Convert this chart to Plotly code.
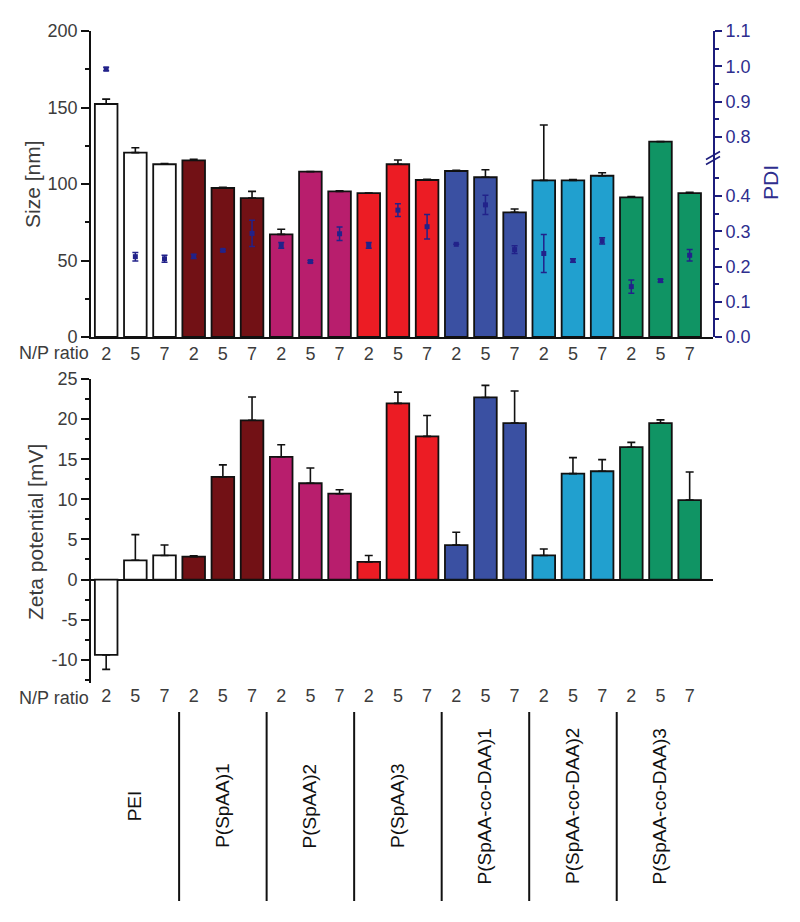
import plotly.graph_objects as go

# ---------------- data ----------------
groups = ["PEI", "P(SpAA)1", "P(SpAA)2", "P(SpAA)3",
          "P(SpAA-co-DAA)1", "P(SpAA-co-DAA)2", "P(SpAA-co-DAA)3"]
np_ratios = ["2", "5", "7"]
group_colors = ["#ffffff", "#721115", "#b81e6d", "#ec1c24",
                "#3a50a2", "#21a0cf", "#109464"]

size_nm = [152.3, 120.5, 112.9, 115.5, 97.4, 90.8, 67.1, 108.1, 95.2,
           94.1, 112.9, 102.6, 108.5, 104.4, 81.5, 102.4, 102.4, 105.4,
           91.3, 127.7, 94.1]
size_err = [3.2, 3.2, 0.5, 0.7, 0.5, 4.4, 3.3, 0.0, 0.3,
            0.0, 2.8, 0.5, 0.5, 4.9, 2.2, 36.2, 0.5, 2.0,
            0.5, 0.0, 0.5]
pdi = [0.992, 0.228, 0.222, 0.229, 0.246, 0.294, 0.260, 0.214, 0.293,
       0.260, 0.360, 0.313, 0.263, 0.375, 0.248, 0.237, 0.217, 0.273,
       0.143, 0.160, 0.232]
pdi_err = [0.005, 0.012, 0.010, 0.006, 0.003, 0.037, 0.008, 0.003, 0.019,
           0.008, 0.018, 0.035, 0.000, 0.027, 0.011, 0.054, 0.005, 0.009,
           0.019, 0.004, 0.016]
zeta = [-9.4, 2.4, 3.0, 2.86, 12.8, 19.85, 15.3, 12.0, 10.7,
        2.2, 21.96, 17.85, 4.3, 22.7, 19.5, 3.0, 13.2, 13.5,
        16.5, 19.5, 9.9]
zeta_err = [1.8, 3.2, 1.3, 0.1, 1.5, 2.9, 1.5, 1.9, 0.5,
            0.8, 1.4, 2.6, 1.6, 1.5, 4.0, 0.8, 2.0, 1.45,
            0.6, 0.4, 3.5]
size_ticks = [0, 50, 100, 150, 200]
zeta_ticks = [-10, -5, 0, 5, 10, 15, 20, 25]
pdi_ticks_low = [0.0, 0.1, 0.2, 0.3, 0.4]
pdi_ticks_high = [0.8, 0.9, 1.0, 1.1]

# ---------------- derived ----------------
n = len(size_nm)
xs = list(range(n))
tick_text = np_ratios * len(groups)
bar_colors = [c for c in group_colors for _ in np_ratios]
PDI_BREAK_LOW, PDI_BREAK_HIGH = 0.508, 0.74

FONT = "Liberation Sans, Arial, sans-serif"
TXT = "#3c3c3c"
NAVY = "#1c1c7c"
NAVY_TXT = "#2e2e8e"

# page geometry (the page body adds an 8px offset around the figure)
OFF = 8
W, H = 800 - OFF, 922 - OFF
ML, MT = 91 - OFF, 31 - OFF
MR = W - (713 - OFF)
MB = H - (683 - OFF)
PW, PH = W - ML - MR, H - MT - MB
def py(p):
    return (H - MB - (p - OFF)) / PH
def px(p):
    return ((p - OFF) - ML) / PW

fig = go.Figure()

# top: size bars
fig.add_trace(go.Bar(
    x=xs, y=size_nm, xaxis="x", yaxis="y", width=0.775,
    marker=dict(color=bar_colors, line=dict(color="#111111", width=1.8)),
    error_y=dict(type="data", array=size_err, arrayminus=[0] * n,
                 symmetric=False, color="#111111", thickness=1.6, width=4),
    showlegend=False))

# top: PDI points on broken right axis
lo_x = [x for x, v in zip(xs, pdi) if v < PDI_BREAK_LOW]
lo_y = [v for v in pdi if v < PDI_BREAK_LOW]
lo_e = [e for v, e in zip(pdi, pdi_err) if v < PDI_BREAK_LOW]
hi_x = [x for x, v in zip(xs, pdi) if v >= PDI_BREAK_LOW]
hi_y = [v for v in pdi if v >= PDI_BREAK_LOW]
hi_e = [e for v, e in zip(pdi, pdi_err) if v >= PDI_BREAK_LOW]
for tx, ty, te, ya in [(lo_x, lo_y, lo_e, "y2"), (hi_x, hi_y, hi_e, "y3")]:
    fig.add_trace(go.Scatter(
        x=tx, y=ty, xaxis="x", yaxis=ya, mode="markers",
        marker=dict(symbol="square", size=5, color="#22228a"),
        error_y=dict(type="data", array=te, color="#22228a",
                     thickness=1.5, width=3),
        showlegend=False))

# bottom: zeta bars
fig.add_trace(go.Bar(
    x=xs, y=zeta, xaxis="x2", yaxis="y4", width=0.775,
    marker=dict(color=bar_colors, line=dict(color="#111111", width=1.8)),
    error_y=dict(type="data",
                 array=[e if v >= 0 else 0 for v, e in zip(zeta, zeta_err)],
                 arrayminus=[e if v < 0 else 0 for v, e in zip(zeta, zeta_err)],
                 symmetric=False, color="#111111", thickness=1.6, width=4),
    showlegend=False))

top_dom = [py(337), 1.0]
bot_dom = [0.0, py(379)]
brk = py(158)

xcommon = dict(range=[-0.52, 20.8], tickmode="array", tickvals=xs,
               ticktext=tick_text, ticks="", showgrid=False, zeroline=False,
               automargin=False,
               tickfont=dict(family=FONT, size=18, color=TXT))

fig.update_layout(
    width=W, height=H, margin=dict(l=ML, r=MR, t=MT, b=MB, autoexpand=False),
    paper_bgcolor="white", plot_bgcolor="rgba(0,0,0,0)",
    bargap=0.2, font=dict(family=FONT, color=TXT),
    xaxis=dict(**xcommon, anchor="y", domain=[0, 1],
               showline=True, linecolor="#111111", linewidth=1.6),
    xaxis2=dict(**xcommon, anchor="y4", domain=[0, 1], showline=False),
    yaxis=dict(domain=top_dom, range=[0, 200], anchor="x", automargin=False,
               tickmode="array", tickvals=size_ticks,
               ticktext=[str(v) for v in size_ticks],
               ticks="outside", ticklen=8, tickwidth=1.5, tickcolor="#111111",
               minor=dict(tickvals=[25, 75, 125, 175], ticks="outside",
                          ticklen=4, tickwidth=1.5, tickcolor="#111111"),
               showline=True, linecolor="#111111", linewidth=1.6,
               showgrid=False, zeroline=False,
               tickfont=dict(family=FONT, size=18, color=TXT)),
    yaxis2=dict(domain=[top_dom[0], brk], range=[0, PDI_BREAK_LOW],
                anchor="x", side="right", automargin=False,
                tickmode="array", tickvals=pdi_ticks_low,
                ticktext=[f"{v:.1f}" for v in pdi_ticks_low],
                ticks="outside", ticklen=7, tickwidth=1.5, tickcolor=NAVY,
                minor=dict(tickvals=[0.05, 0.15, 0.25, 0.35, 0.45],
                           ticks="outside", ticklen=4, tickwidth=1.5,
                           tickcolor=NAVY),
                showline=True, linecolor=NAVY, linewidth=1.6,
                showgrid=False, zeroline=False,
                tickfont=dict(family=FONT, size=18, color=NAVY_TXT)),
    yaxis3=dict(domain=[brk, 1.0], range=[PDI_BREAK_HIGH, 1.1],
                anchor="x", side="right", automargin=False,
                tickmode="array", tickvals=pdi_ticks_high,
                ticktext=[f"{v:.1f}" for v in pdi_ticks_high],
                ticks="outside", ticklen=7, tickwidth=1.5, tickcolor=NAVY,
                minor=dict(tickvals=[0.85, 0.95, 1.05],
                           ticks="outside", ticklen=4, tickwidth=1.5,
                           tickcolor=NAVY),
                showline=True, linecolor=NAVY, linewidth=1.6,
                showgrid=False, zeroline=False,
                tickfont=dict(family=FONT, size=18, color=NAVY_TXT)),
    yaxis4=dict(domain=bot_dom, range=[-12.9, 25], anchor="x2", automargin=False,
                tickmode="array", tickvals=zeta_ticks,
                ticktext=[str(v) for v in zeta_ticks],
                ticks="outside", ticklen=8, tickwidth=1.5, tickcolor="#111111",
                minor=dict(dtick=2.5, tick0=0, ticks="outside",
                           ticklen=4, tickwidth=1.5, tickcolor="#111111"),
                showline=True, linecolor="#111111", linewidth=1.6,
                showgrid=False, zeroline=True, zerolinecolor="#111111",
                zerolinewidth=1.6,
                tickfont=dict(family=FONT, size=18, color=TXT)),
)

# annotations
ann = []
ann.append(dict(text="Size [nm]", xref="paper", yref="paper", x=px(33), y=py(184),
                xanchor="center", yanchor="middle", textangle=-90,
                showarrow=False, font=dict(family=FONT, size=21, color=TXT)))
ann.append(dict(text="Zeta potential [mV]", xref="paper", yref="paper",
                x=px(35), y=py(532), xanchor="center", yanchor="middle",
                textangle=-90, showarrow=False,
                font=dict(family=FONT, size=21, color=TXT)))
for yy in [py(353), py(698)]:
    ann.append(dict(text="N/P ratio", xref="paper", yref="paper",
                    x=px(91), y=yy, xanchor="right", yanchor="middle",
                    showarrow=False, font=dict(family=FONT, size=18, color=TXT)))
ann.append(dict(text="PDI", xref="paper", yref="paper", x=px(770), y=py(183),
                xanchor="center", yanchor="middle", textangle=-90,
                showarrow=False, font=dict(family=FONT, size=21, color=NAVY_TXT)))
for g, name in enumerate(groups):
    ann.append(dict(text=name, xref="x2", yref="paper",
                    x=3 * g + 1, y=py(806), xanchor="center", yanchor="middle",
                    textangle=-90, showarrow=False,
                    font=dict(family=FONT, size=19, color="#111111")))
fig.update_layout(annotations=ann)

shapes = []
for g in range(1, len(groups)):
    shapes.append(dict(type="line", xref="x2", yref="paper",
                       x0=3 * g - 0.5, x1=3 * g - 0.5, y0=py(712), y1=py(901),
                       line=dict(color="#111111", width=2)))
# axis-break marks
for dy in (-2.5, 2.5):
    shapes.append(dict(type="line", xref="paper", yref="paper",
                       x0=px(706), x1=px(720), y0=py(162 + dy), y1=py(154 + dy),
                       line=dict(color=NAVY, width=1.6)))
fig.update_layout(shapes=shapes)

fig.write_html("out.html")
